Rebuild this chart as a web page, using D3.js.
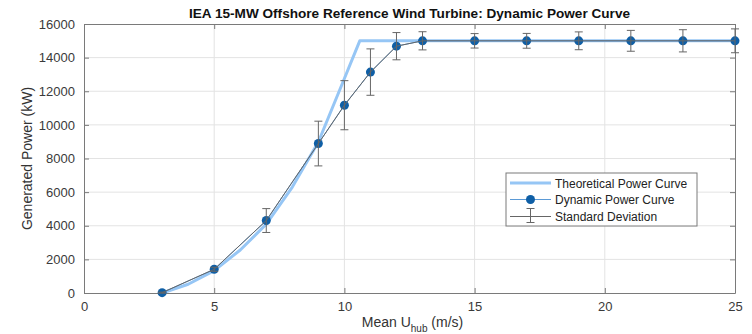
<!DOCTYPE html>
<html>
<head>
<meta charset="utf-8">
<script src="https://cdn.jsdelivr.net/npm/d3@7"></script>
<style>
  body { margin: 0; background: #fff; }
  svg { display: block; font-family: "Liberation Sans", Arial, Helvetica, sans-serif; }
  .grid line { stroke: #e3e3e3; stroke-width: 1; }
  .axis text { fill: #3a3a3a; font-size: 13px; }
  .axis path, .axis line { stroke: #7a7a7a; }
</style>
</head>
<body>
<svg width="752" height="334"></svg>
<script>
// theoretical curve
var theoSpeed = [3, 4, 5, 6, 7, 8, 9, 10, 10.59, 25];
var theoPower = [0, 520, 1330, 2560, 4100, 6300, 8980, 12760, 15000, 15000];

// dynamic curve (mean) and std dev
var windSpeed = [3, 5, 7, 9, 10, 11, 12, 13, 15, 17, 19, 21, 23, 25];
var dynPower = [20, 1410, 4310, 8890, 11170, 13140, 14680, 15000, 15000, 15000, 15000, 15000, 15000, 15000];
var stdDev = [30, 120, 710, 1330, 1460, 1380, 810, 540, 430, 440, 530, 620, 660, 710];

var xTicks = [0, 5, 10, 15, 20, 25];
var yTicks = [0, 2000, 4000, 6000, 8000, 10000, 12000, 14000, 16000];
var legendLabels = ['Theoretical Power Curve', 'Dynamic Power Curve', 'Standard Deviation'];

var svg = d3.select('svg');
var margin = {t: 24, r: 17, b: 41, l: 84};
var W = +svg.attr('width'), H = +svg.attr('height');
var w = W - margin.l - margin.r, h = H - margin.t - margin.b;

var x = d3.scaleLinear().domain([0, 25]).range([0, w]);
var y = d3.scaleLinear().domain([0, 16000]).range([h, 0]);

var g = svg.append('g').attr('transform', 'translate(' + margin.l + ',' + margin.t + ')');

// grid
var grid = g.append('g').attr('class', 'grid');
grid.selectAll('.gx').data(xTicks.slice(1, -1)).enter().append('line')
    .attr('x1', d => x(d)).attr('x2', d => x(d)).attr('y1', 0).attr('y2', h);
grid.selectAll('.gy').data(yTicks.slice(1, -1)).enter().append('line')
    .attr('x1', 0).attr('x2', w).attr('y1', d => y(d)).attr('y2', d => y(d));

// axes (ticks inward, box)
g.append('g').attr('class', 'axis').attr('transform', 'translate(0,' + h + ')')
    .call(d3.axisBottom(x).tickValues(xTicks).tickSizeInner(-5).tickSizeOuter(0).tickPadding(9));
g.append('g').attr('class', 'axis')
    .call(d3.axisLeft(y).tickValues(yTicks).tickFormat(d3.format('d')).tickSizeInner(-5).tickSizeOuter(0).tickPadding(9));
g.append('g').attr('class', 'axis')
    .call(d3.axisTop(x).tickValues(xTicks).tickSizeInner(-5).tickSizeOuter(0).tickFormat(''));
g.append('g').attr('class', 'axis').attr('transform', 'translate(' + w + ',0)')
    .call(d3.axisRight(y).tickValues(yTicks).tickSizeInner(-5).tickSizeOuter(0).tickFormat(''));

// theoretical
var theo = theoSpeed.map((s, i) => [s, theoPower[i]]);
var dyn = windSpeed.map((s, i) => ({s: s, p: dynPower[i], sd: stdDev[i]}));
var line = d3.line().x(d => x(d[0])).y(d => y(d[1]));

g.append('path').attr('d', line(theo))
    .attr('fill', 'none').attr('stroke', '#96c6f5').attr('stroke-width', 3).attr('stroke-linejoin', 'round');

// dynamic line + markers
g.append('path').attr('d', line(dyn.map(d => [d.s, d.p])))
    .attr('fill', 'none').attr('stroke', '#5b9ad6').attr('stroke-width', 1);
g.selectAll('.mk').data(dyn).enter().append('circle')
    .attr('cx', d => x(d.s)).attr('cy', d => y(d.p)).attr('r', 4.5)
    .attr('fill', '#0f5fa6');

// error bars
var eb = g.append('g').attr('stroke', '#666').attr('stroke-width', 1).attr('fill', 'none');
eb.append('path').attr('d', line(dyn.map(d => [d.s, d.p])));
dyn.forEach(function(d) {
    var cx = x(d.s), y0 = y(d.p - d.sd), y1 = y(d.p + d.sd);
    eb.append('line').attr('x1', cx).attr('x2', cx).attr('y1', y0).attr('y2', y1);
    eb.append('line').attr('x1', cx - 4).attr('x2', cx + 4).attr('y1', y0).attr('y2', y0);
    eb.append('line').attr('x1', cx - 4).attr('x2', cx + 4).attr('y1', y1).attr('y2', y1);
});

// title
svg.append('text').attr('x', margin.l + w / 2).attr('y', 18).attr('text-anchor', 'middle')
    .attr('font-size', 13.6).attr('font-weight', 'bold').attr('fill', '#111')
    .text('IEA 15-MW Offshore Reference Wind Turbine: Dynamic Power Curve');

// axis labels
var xl = svg.append('text').attr('x', margin.l + w / 2 + 3).attr('y', 327).attr('text-anchor', 'middle')
    .attr('font-size', 14).attr('fill', '#333');
xl.append('tspan').text('Mean U');
xl.append('tspan').attr('font-size', 10).attr('dy', 5).text('hub');
xl.append('tspan').attr('dy', -5).text(' (m/s)');

svg.append('text').attr('transform', 'translate(32,' + (margin.t + h / 2) + ') rotate(-90)')
    .attr('text-anchor', 'middle').attr('font-size', 14).attr('fill', '#333')
    .text('Generated Power (kW)');

// legend
var lg = svg.append('g').attr('transform', 'translate(506,173)');
lg.append('rect').attr('width', 191).attr('height', 53).attr('fill', '#fff').attr('stroke', '#7a7a7a');
var rows = [10, 26.5, 43.5];
lg.selectAll('.lt').data(legendLabels).enter().append('text')
    .attr('x', 49).attr('y', (d, i) => rows[i] + 4.5).attr('font-size', 12).attr('fill', '#222')
    .text(d => d);
lg.append('line').attr('x1', 4).attr('x2', 45).attr('y1', rows[0]).attr('y2', rows[0])
    .attr('stroke', '#96c6f5').attr('stroke-width', 3);
lg.append('line').attr('x1', 4).attr('x2', 45).attr('y1', rows[1]).attr('y2', rows[1])
    .attr('stroke', '#5b9ad6').attr('stroke-width', 1);
lg.append('circle').attr('cx', 24.5).attr('cy', rows[1]).attr('r', 4.5).attr('fill', '#0f5fa6');
var le = lg.append('g').attr('stroke', '#666').attr('stroke-width', 1);
le.append('line').attr('x1', 4).attr('x2', 45).attr('y1', rows[2]).attr('y2', rows[2]);
le.append('line').attr('x1', 24.5).attr('x2', 24.5).attr('y1', rows[2] - 8).attr('y2', rows[2] + 6);
le.append('line').attr('x1', 20.5).attr('x2', 28.5).attr('y1', rows[2] - 8).attr('y2', rows[2] - 8);
le.append('line').attr('x1', 20.5).attr('x2', 28.5).attr('y1', rows[2] + 6).attr('y2', rows[2] + 6);
</script>
</body>
</html>
